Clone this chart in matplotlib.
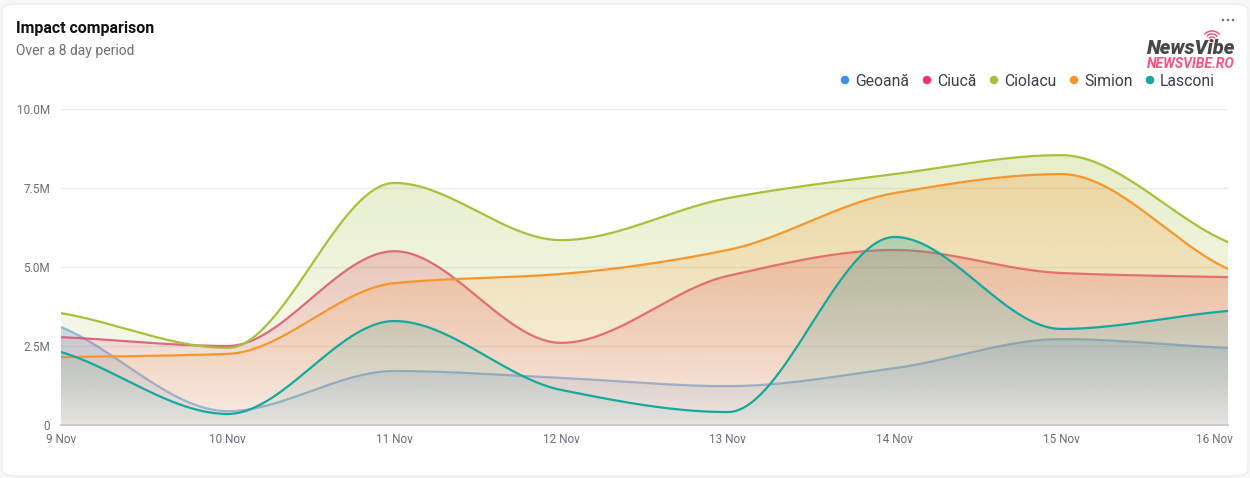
import numpy as np
import matplotlib
matplotlib.use("Agg")
import matplotlib.pyplot as plt
import matplotlib.transforms as mtrans
from matplotlib.patches import FancyBboxPatch, Polygon, Ellipse, Arc

plt.rcParams['font.family'] = ['Roboto', 'DejaVu Sans']
from matplotlib.colors import to_rgb

# ---------------- data ----------------
dates = ["9 Nov", "10 Nov", "11 Nov", "12 Nov", "13 Nov", "14 Nov", "15 Nov", "16 Nov"]
series_names = ["Geoană", "Ciucă", "Ciolacu", "Simion", "Lasconi"]
geoana  = [3.10, 0.44, 1.71, 1.49, 1.23, 1.80, 2.72, 2.44]
ciuca   = [2.78, 2.50, 5.50, 2.60, 4.72, 5.54, 4.81, 4.68]
ciolacu = [3.54, 2.44, 7.66, 5.85, 7.18, 7.94, 8.54, 5.79]
simion  = [2.15, 2.25, 4.49, 4.78, 5.54, 7.34, 7.94, 4.94]
lasconi = [2.31, 0.35, 3.29, 1.11, 0.41, 5.95, 3.04, 3.61]
yticks = [0, 2.5, 5.0, 7.5, 10.0]
ytick_labels = ["0", "2.5M", "5.0M", "7.5M", "10.0M"]
colors = ["#3c8ee6", "#e8356d", "#a6c13a", "#f7962e", "#14a89f"]
line_alpha = [0.55, 0.8, 1.0, 1.0, 1.0]

all_series = [geoana, ciuca, ciolacu, simion, lasconi]


def pchip(x, y, xs):
    x = np.asarray(x, float); y = np.asarray(y, float)
    h = np.diff(x); d = np.diff(y) / h
    n = len(x)
    m = np.zeros(n)
    for k in range(1, n - 1):
        if d[k - 1] * d[k] <= 0:
            m[k] = 0.0
        else:
            w1 = 2 * h[k] + h[k - 1]
            w2 = h[k] + 2 * h[k - 1]
            m[k] = (w1 + w2) / (w1 / d[k - 1] + w2 / d[k])
    m[0] = d[0] * 0.8
    m[-1] = d[-1] * 0.8
    ys = np.empty_like(xs)
    idx = np.clip(np.searchsorted(x, xs) - 1, 0, n - 2)
    for i, xv in enumerate(xs):
        k = idx[i]
        t = (xv - x[k]) / h[k]
        h00 = 2 * t**3 - 3 * t**2 + 1
        h10 = t**3 - 2 * t**2 + t
        h01 = -2 * t**3 + 3 * t**2
        h11 = t**3 - t**2
        ys[i] = h00 * y[k] + h10 * h[k] * m[k] + h01 * y[k + 1] + h11 * h[k] * m[k + 1]
    return ys


W, H = 1250, 478
fig = plt.figure(figsize=(W / 100, H / 100), dpi=100)
fig.patch.set_facecolor("#f7f7f8")
card = FancyBboxPatch((2 / W, 2 / H), (W - 4) / W, (H - 6) / H,
                      boxstyle="round,pad=0,rounding_size=0.012",
                      transform=fig.transFigure, facecolor="white",
                      edgecolor="#ececee", linewidth=1.0, zorder=-10)
fig.patches.append(card)

x0, x1 = 61, 1228
ytop, ybot = 109, 425
ax = fig.add_axes([x0 / W, 1 - ybot / H, (x1 - x0) / W, (ybot - ytop) / H], zorder=5)
ax.set_facecolor("none")

xs = np.arange(len(dates), dtype=float)
xd = np.linspace(0, len(dates) - 1, 700)

# gridlines
for yv in yticks[1:]:
    ax.axhline(yv, color="#ececec", lw=1.0, zorder=0.5)

for i, (vals, col) in enumerate(zip(all_series, colors)):
    yd = pchip(xs, vals, xd)
    ymax = yd.max()
    verts = np.column_stack([np.r_[xd, xd[-1], xd[0]], np.r_[yd, 0, 0]])
    poly = Polygon(verts, closed=True, facecolor="none", edgecolor="none")
    ax.add_patch(poly)
    rgb = to_rgb(col)
    nimg = 256
    grad = np.zeros((nimg, 2, 4))
    tt = np.linspace(1, 0, nimg)  # top -> bottom
    a_top, a_bot = 0.27, 0.05
    grad[:, :, 0] = rgb[0]
    grad[:, :, 1] = rgb[1]
    grad[:, :, 2] = rgb[2]
    grad[:, :, 3] = (a_bot + (a_top - a_bot) * tt)[:, None]
    im = ax.imshow(grad, extent=[xd[0], xd[-1], 0, ymax], aspect="auto",
                   origin="upper", zorder=1 + i * 2, interpolation="bilinear")
    im.set_clip_path(poly)
    ax.plot(xd, yd, color=col, lw=1.6, alpha=line_alpha[i], zorder=2 + i * 2,
            solid_capstyle="round")

ax.set_xlim(0, len(dates) - 1)
ax.set_ylim(0, 10.0)
for s in ["top", "right", "left"]:
    ax.spines[s].set_visible(False)
ax.spines["bottom"].set_color("#c9cad2")
ax.spines["bottom"].set_linewidth(1.4)
ax.spines["bottom"].set_zorder(20)
ax.set_yticks(yticks)
ax.set_yticklabels(ytick_labels)
ax.set_xticks(xs)
ax.set_xticklabels(dates)
ax.tick_params(axis="both", length=0, labelsize=8.5, labelcolor="#6b6e78")
ax.tick_params(axis="y", pad=8)
ax.tick_params(axis="x", pad=6)
lbls = ax.get_xticklabels()
lbls[-1].set_horizontalalignment("right")
lbls[-1].set_transform(lbls[-1].get_transform() + mtrans.ScaledTranslation(5 / 100, 0, fig.dpi_scale_trans))

# title / subtitle
fig.text(16 / W, 1 - 28 / H, "Impact comparison", fontsize=11.5, fontweight="bold",
         color="#111111", va="center", ha="left")
fig.text(16 / W, 1 - 51 / H, "Over a 8 day period", fontsize=10,
         color="#6b6e78", va="center", ha="left")

# legend
leg_dot_x = [845, 927, 994, 1074, 1150]
leg_txt_x = [855, 937, 1004, 1084, 1160]
for name, col, dx, tx in zip(series_names, colors, leg_dot_x, leg_txt_x):
    fig.patches.append(Ellipse((dx / W, 1 - 80 / H), 8.5 / W, 8.5 / H, transform=fig.transFigure,
                               facecolor=col, edgecolor="none", zorder=3))
    fig.text(tx / W, 1 - 81 / H, name, fontsize=11.3, color="#3a3f4b",
             va="center", ha="left")

# menu dots
for dxp in [1223, 1228, 1233]:
    fig.patches.append(Ellipse((dxp / W, 1 - 20 / H), 2.6 / W, 2.6 / H, transform=fig.transFigure,
                               facecolor="#6f727b", edgecolor="none", zorder=3))

# logo
fig.text(1191 / W, 1 - 49 / H, "NewsVibe", fontsize=14.5, fontweight="heavy", style="italic",
         color="#474747", ha="center", va="center")
fig.text(1191 / W, 1 - 64 / H, "NEWSVIBE.RO", fontsize=10, fontweight="bold", style="italic",
         color="#f0567f", ha="center", va="center")
# wifi icon
cx, cy = 1212, 41
fig.patches.append(Ellipse((cx / W, 1 - cy / H), 3.5 / W, 3.5 / H, transform=fig.transFigure,
                           facecolor="#f0567f", edgecolor="none", zorder=3))
ax_logo = fig.add_axes([(cx - 12) / W, 1 - (cy + 2) / H, 24 / W, 14 / H], zorder=6)
ax_logo.set_xlim(-12, 12); ax_logo.set_ylim(-2, 12); ax_logo.axis("off")
for r in [4, 7, 10]:
    ax_logo.add_patch(Arc((0, 0), 2 * r, 2 * r, theta1=40, theta2=140, color="#f0567f", lw=1.1))

fig.savefig("out.png", dpi=100, facecolor=fig.get_facecolor())
